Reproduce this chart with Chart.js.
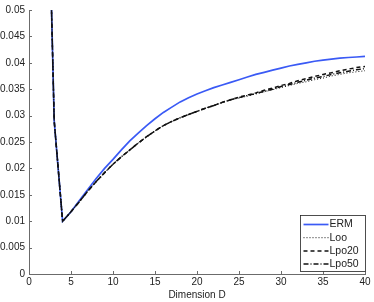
<!DOCTYPE html>
<html>
<head>
<meta charset="utf-8">
<script src="https://cdn.jsdelivr.net/npm/chart.js@4.4.1/dist/chart.umd.min.js"></script>
<style>
  html, body { margin: 0; padding: 0; background: #fff; }
  #wrap { width: 374px; height: 302px; }
</style>
</head>
<body>
<div id="wrap"><canvas id="grafica"></canvas></div>
<script>
// values (D = 2 lies above the y limit and gets clipped)
const dims = [2, 3, 4, 5, 6, 7, 8, 9, 10, 11, 12, 13, 14, 15, 16, 17, 18, 19, 20, 21,
              22, 23, 24, 25, 26, 27, 28, 29, 30, 31, 32, 33, 34, 35, 36, 37, 38, 39, 40];

const erm = [0.095, 0.029, 0.0100, 0.0118, 0.0139, 0.0160, 0.0181, 0.0200, 0.0217, 0.0235,
             0.0252, 0.0267, 0.0281, 0.0294, 0.0306, 0.0316, 0.0326, 0.0334, 0.0341, 0.0347,
             0.0353, 0.0358, 0.0363, 0.0368, 0.0373, 0.0378, 0.0382, 0.0386, 0.0390, 0.0394,
             0.0397, 0.0400, 0.0403, 0.0405, 0.0407, 0.0409, 0.0410, 0.0411, 0.0412];

const loo = [0.095, 0.029, 0.0100, 0.0118, 0.0137, 0.0157, 0.0175, 0.0192, 0.0208, 0.0222,
             0.0235, 0.0248, 0.0260, 0.0271, 0.0281, 0.0289, 0.0296, 0.0302, 0.0308, 0.0314,
             0.0319, 0.0325, 0.0330, 0.0333, 0.0337, 0.0341, 0.0345, 0.0349, 0.0353, 0.0357,
             0.0361, 0.0364, 0.0368, 0.0371, 0.0375, 0.0378, 0.0381, 0.0383, 0.0385];

const lpo20 = [0.095, 0.029, 0.0100, 0.0118, 0.0137, 0.0157, 0.0175, 0.0192, 0.0208, 0.0222,
               0.0235, 0.0248, 0.0260, 0.0271, 0.0281, 0.0289, 0.0296, 0.0302, 0.0308, 0.0314,
               0.0319, 0.0325, 0.0330, 0.0335, 0.0339, 0.0343, 0.0348, 0.0352, 0.0357, 0.0361,
               0.0366, 0.0370, 0.0374, 0.0378, 0.0381, 0.0385, 0.0388, 0.0391, 0.0393];

const lpo50 = [0.095, 0.029, 0.0100, 0.0118, 0.0137, 0.0157, 0.0175, 0.0192, 0.0208, 0.0222,
               0.0235, 0.0248, 0.0260, 0.0271, 0.0281, 0.0289, 0.0296, 0.0302, 0.0308, 0.0314,
               0.0319, 0.0325, 0.0330, 0.0334, 0.0338, 0.0342, 0.0346, 0.0350, 0.0355, 0.0359,
               0.0363, 0.0367, 0.0371, 0.0374, 0.0378, 0.0381, 0.0384, 0.0387, 0.0389];

const seriesNames = ['ERM', 'Loo', 'Lpo20', 'Lpo50'];
const xTicks = [0, 5, 10, 15, 20, 25, 30, 35, 40];
const yTicks = [0, 0.005, 0.01, 0.015, 0.02, 0.025, 0.03, 0.035, 0.04, 0.045, 0.05];

const axisColor = '#6b6b6b';
const textColor = '#222';
const fontFamily = '"Liberation Sans", Arial, Helvetica, sans-serif';

function pares(ys) {
    return dims.map((d, i) => ({ x: d, y: ys[i] }));
}

// inward tick marks, like the original axes
const marcasInternas = {
    id: 'marcasInternas',
    afterDraw(chart) {
        const ctx = chart.ctx;
        const area = chart.chartArea;
        const sx = chart.scales.x;
        const sy = chart.scales.y;
        ctx.save();
        ctx.strokeStyle = axisColor;
        ctx.lineWidth = 1;
        ctx.beginPath();
        xTicks.forEach((v) => {
            const px = Math.round(sx.getPixelForValue(v)) + 0.5;
            ctx.moveTo(px, area.bottom);
            ctx.lineTo(px, area.bottom - 3);
        });
        yTicks.forEach((v) => {
            const py = Math.round(sy.getPixelForValue(v)) + 0.5;
            ctx.moveTo(area.left, py);
            ctx.lineTo(area.left + 3, py);
        });
        ctx.stroke();
        ctx.restore();
    }
};

// boxed legend in the lower right corner of the plot
const leyendaCaja = {
    id: 'leyendaCaja',
    afterDraw(chart) {
        const ctx = chart.ctx;
        const area = chart.chartArea;
        const w = 65, h = 56;
        const x0 = area.right - w + 0.5;
        const y0 = area.bottom - 3 - h + 0.5;
        ctx.save();
        ctx.fillStyle = '#fff';
        ctx.fillRect(x0, y0, w, h);
        ctx.strokeStyle = '#222';
        ctx.lineWidth = 0.8;
        ctx.strokeRect(x0, y0, w, h);
        ctx.font = '10.5px ' + fontFamily;
        ctx.textBaseline = 'middle';
        ctx.fillStyle = textColor;
        chart.data.datasets.forEach((ds, i) => {
            const yy = y0 + 9 + i * 13.2;
            ctx.beginPath();
            ctx.strokeStyle = ds.borderColor;
            ctx.lineWidth = ds.borderWidth;
            ctx.setLineDash(ds.borderDash || []);
            ctx.moveTo(x0 + 3, yy);
            ctx.lineTo(x0 + 28, yy);
            ctx.stroke();
            ctx.setLineDash([]);
            ctx.fillText(ds.label, x0 + 29, yy);
        });
        ctx.restore();
    }
};

document.addEventListener('DOMContentLoaded', function () {
    const canvas = document.getElementById('grafica');

    new Chart(canvas, {
        type: 'line',
        data: {
            datasets: [
                { label: seriesNames[0], data: pares(erm), borderColor: '#3a5af5', borderWidth: 1.7, order: 10 },
                { label: seriesNames[1], data: pares(loo), borderColor: '#111', borderWidth: 1, borderDash: [1, 2], order: 3 },
                { label: seriesNames[2], data: pares(lpo20), borderColor: '#111', borderWidth: 1.5, borderDash: [4, 3], order: 2 },
                { label: seriesNames[3], data: pares(lpo50), borderColor: '#111', borderWidth: 1.5, borderDash: [5, 2, 1, 2], order: 1 }
            ]
        },
        options: {
            responsive: true,
            maintainAspectRatio: false,
            animation: false,
            events: [],
            layout: { padding: { left: 0, right: 9, top: 9, bottom: 0 } },
            elements: {
                point: { radius: 0 },
                line: { tension: 0, fill: false }
            },
            plugins: {
                legend: { display: false },
                tooltip: { enabled: false }
            },
            scales: {
                x: {
                    type: 'linear',
                    min: 0,
                    max: 40,
                    afterBuildTicks: (scale) => { scale.ticks = xTicks.map((v) => ({ value: v })); },
                    afterFit: (scale) => { scale.height = 28; },
                    grid: { display: true, drawOnChartArea: false, drawTicks: false },
                    border: { display: true, color: axisColor, width: 1 },
                    ticks: {
                        color: textColor,
                        padding: 2,
                        maxRotation: 0,
                        font: { family: fontFamily, size: 10 },
                        callback: (v) => String(v)
                    },
                    title: {
                        display: true,
                        text: 'Dimension D',
                        color: textColor,
                        padding: { top: 0, bottom: 1 },
                        font: { family: fontFamily, size: 10 }
                    }
                },
                y: {
                    type: 'linear',
                    min: 0,
                    max: 0.05,
                    afterBuildTicks: (scale) => { scale.ticks = yTicks.map((v) => ({ value: v })); },
                    afterFit: (scale) => { scale.width = 29; },
                    grid: { display: true, drawOnChartArea: false, drawTicks: false },
                    border: { display: true, color: axisColor, width: 1 },
                    ticks: {
                        color: textColor,
                        padding: 4,
                        font: { family: fontFamily, size: 10 },
                        callback: (v) => String(parseFloat(Number(v).toFixed(3)))
                    }
                }
            }
        },
        plugins: [marcasInternas, leyendaCaja]
    });
});
</script>
</body>
</html>
